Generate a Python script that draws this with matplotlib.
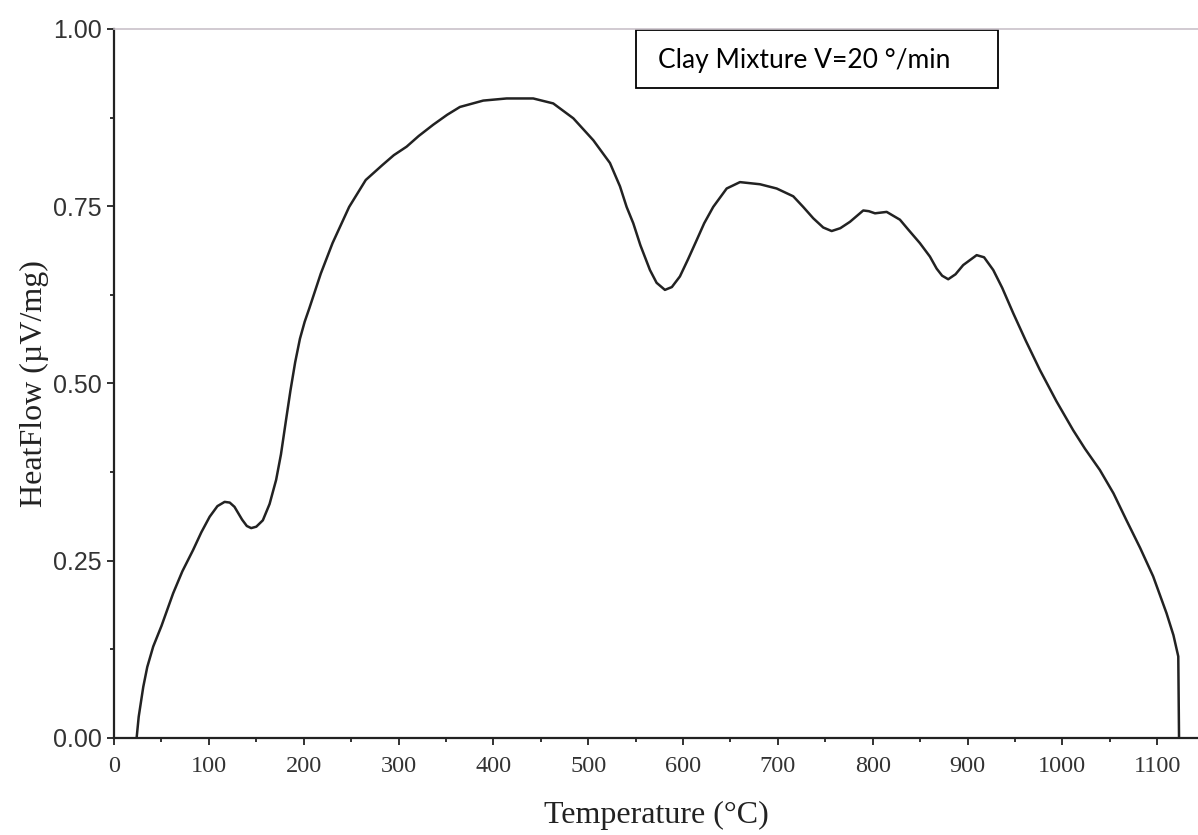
import matplotlib
matplotlib.use("Agg")
import matplotlib.pyplot as plt
from matplotlib.patches import Rectangle
from matplotlib.ticker import MultipleLocator, FormatStrFormatter

temperature = [23.8, 26, 30.8, 35, 41.3, 50, 62.3, 72, 83.3, 92, 100.8, 109,
               116.6, 122, 127, 135, 140, 144.6, 150, 156.9, 164, 170.9, 176,
               181.4, 186, 191, 196, 201, 205.9, 218, 230.4, 247.9, 265.4,
               282.9, 295, 308.5, 321.2, 336.6, 351.3, 364.7, 389.3, 414, 442,
               463.1, 484.3, 505.4, 522.9, 533.5, 540.5, 547.5, 555, 565.1,
               572.1, 580.9, 588.2, 596.7, 605.2, 614.3, 622.3, 631.8, 646,
               660, 681.1, 698.7, 716.2, 726.7, 737.3, 747.8, 756.7, 765.8,
               776, 790, 795.9, 802.4, 814.7, 828.7, 837.5, 849.7, 860.3,
               867.4, 873.2, 879.6, 887.3, 895.4, 909.6, 917.4, 927.1, 936.5,
               948.2, 961.5, 976.3, 993.7, 1011.4, 1023.8, 1039.5, 1053.9,
               1067.6, 1082, 1095.7, 1109.8, 1117.1, 1122.2, 1123]
heat_flow = [0.0, 0.03, 0.072, 0.10, 0.129, 0.158, 0.204, 0.235, 0.265, 0.290,
             0.312, 0.327, 0.333, 0.332, 0.326, 0.308, 0.299, 0.296, 0.298,
             0.307, 0.330, 0.364, 0.400, 0.449, 0.49, 0.53, 0.563, 0.587,
             0.606, 0.655, 0.698, 0.749, 0.787, 0.808, 0.822, 0.834, 0.849,
             0.865, 0.879, 0.890, 0.899, 0.902, 0.902, 0.895, 0.874, 0.843,
             0.811, 0.778, 0.749, 0.726, 0.695, 0.660, 0.642, 0.632, 0.636,
             0.651, 0.675, 0.702, 0.726, 0.749, 0.775, 0.784, 0.781, 0.775,
             0.764, 0.749, 0.733, 0.720, 0.715, 0.719, 0.728, 0.744, 0.743,
             0.740, 0.742, 0.731, 0.717, 0.698, 0.679, 0.662, 0.652, 0.647,
             0.654, 0.667, 0.681, 0.678, 0.660, 0.635, 0.599, 0.560, 0.519,
             0.475, 0.434, 0.408, 0.378, 0.345, 0.307, 0.268, 0.228, 0.176,
             0.145, 0.115, 0.0]

x_ticks = list(range(0, 1101, 100))
y_ticks = [0.0, 0.25, 0.5, 0.75, 1.0]
label_text = "Clay Mixture V=20 °/min"

fig = plt.figure(figsize=(11.98, 8.35), dpi=100)
ax = fig.add_axes([0.0952, 0.1162, 0.9048, 0.8491])

ax.plot(temperature, heat_flow, color="#222222", linewidth=1.8,
        solid_joinstyle="round")

ax.set_xlim(0, 1143)
ax.set_ylim(0, 1.0)
ax.set_xticks(x_ticks)
ax.set_yticks(y_ticks)
ax.xaxis.set_minor_locator(MultipleLocator(50))
ax.yaxis.set_minor_locator(MultipleLocator(0.125))
ax.yaxis.set_major_formatter(FormatStrFormatter("%.2f"))

ax.spines["right"].set_visible(False)
ax.spines["top"].set_color("#c9c1c9")
ax.spines["top"].set_linewidth(1.2)
for side in ("left", "bottom"):
    ax.spines[side].set_linewidth(1.6)
    ax.spines[side].set_color("#222222")

ax.tick_params(which="major", direction="out", length=5, width=1.3, color="#222222")
ax.tick_params(which="minor", direction="out", length=3, width=1.3, color="#222222")
ax.tick_params(axis="y", pad=4)
ax.tick_params(axis="x", pad=8)

for lab in ax.get_xticklabels():
    lab.set_fontfamily("Liberation Serif")
    lab.set_fontsize(17.5)
    lab.set_color("#333333")
for lab in ax.get_yticklabels():
    lab.set_fontfamily("Liberation Sans")
    lab.set_fontsize(18)
    lab.set_color("#333333")

ax.set_xlabel("Temperature (°C)", fontfamily="Liberation Serif", fontsize=23,
              color="#222222", labelpad=17)
ax.set_ylabel("HeatFlow (µV/mg)", fontfamily="Liberation Serif", fontsize=23,
              color="#222222", labelpad=3)

# annotation box
ax.add_patch(Rectangle((0.4815, 0.9168), 0.334, 0.082, transform=ax.transAxes,
                       fill=False, edgecolor="black", linewidth=1.3, clip_on=False))
ax.text(0.502, 0.9555, label_text, transform=ax.transAxes, ha="left", va="center",
        fontfamily="Lato", fontsize=19, color="black")

fig.savefig("out.png", dpi=100)
